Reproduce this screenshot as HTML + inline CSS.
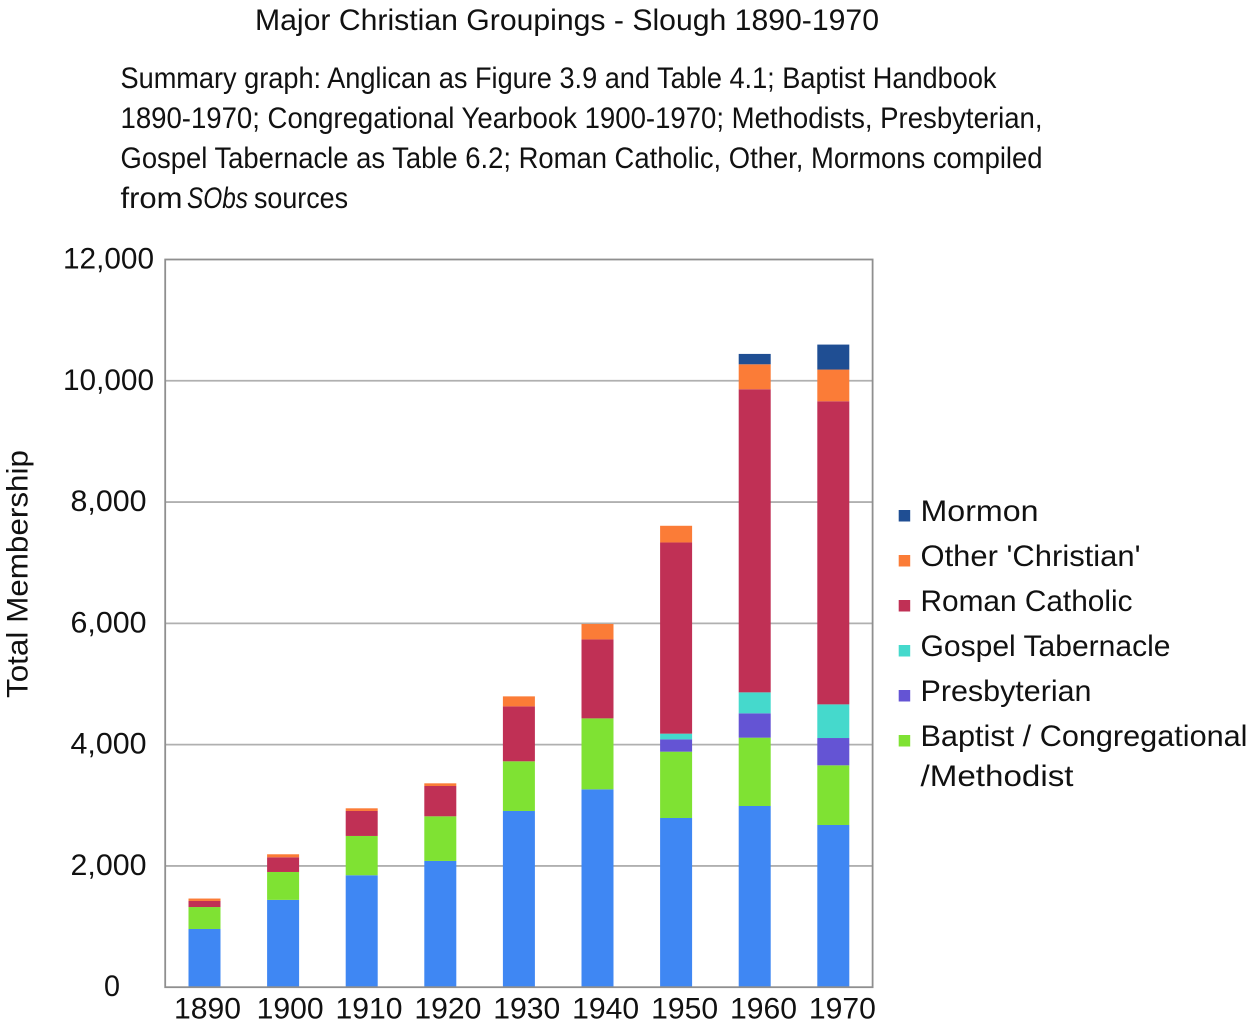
<!DOCTYPE html>
<html lang="en">
<head>
<meta charset="utf-8">
<title>Major Christian Groupings - Slough 1890-1970</title>
<style>
html,body{margin:0;padding:0;background:#fff;}
svg{display:block;font-family:"Liberation Sans",sans-serif;fill:#111;}
</style>
</head>
<body>
<svg id="chart" xmlns="http://www.w3.org/2000/svg" width="1258" height="1029" viewBox="0 0 1258 1029">
  <text x="255" y="30" font-size="29.5" textLength="624" lengthAdjust="spacingAndGlyphs">Major Christian Groupings - Slough 1890-1970</text>
  <g font-size="30">
    <text x="120.5" y="88" textLength="876" lengthAdjust="spacingAndGlyphs">Summary graph: Anglican as Figure 3.9 and Table 4.1; Baptist Handbook</text>
    <text x="120.5" y="128" textLength="922" lengthAdjust="spacingAndGlyphs">1890-1970; Congregational Yearbook 1900-1970; Methodists, Presbyterian,</text>
    <text x="120.5" y="168" textLength="922" lengthAdjust="spacingAndGlyphs">Gospel Tabernacle as Table 6.2; Roman Catholic, Other, Mormons compiled</text>
    <text x="120.5" y="208" textLength="62" lengthAdjust="spacingAndGlyphs">from</text>
    <text x="187" y="208" font-style="italic" textLength="61" lengthAdjust="spacingAndGlyphs">SObs</text>
    <text x="254" y="208" textLength="94" lengthAdjust="spacingAndGlyphs">sources</text>
  </g>
  <text transform="translate(27.5,698) rotate(-90)" font-size="29.5" textLength="248" lengthAdjust="spacingAndGlyphs">Total Membership</text>
  <g id="grid"></g>
  <g id="bars"></g>
  <g id="axes"></g>
  <g id="legend"></g>
</svg>
<script>
const categories = ['1890','1900','1910','1920','1930','1940','1950','1960','1970'];
const anglican = [960,1440,1846,2082,2906,3263,2790,2988,2675];
const baptistCongMeth = [362,460,648,736,819,1170,1094,1127,984];
const presbyterian = [0,0,0,0,0,0,203,401,450];
const gospelTabernacle = [0,0,0,0,0,0,94,346,555];
const romanCatholic = [100,242,412,500,906,1302,3153,4998,4998];
const otherChristian = [40,50,44,44,165,255,275,412,523];
const mormon = [0,0,0,0,0,0,0,171,412];
const yTicks = [0,2000,4000,6000,8000,10000,12000];
const yTickLabels = ['0','2,000','4,000','6,000','8,000','10,000','12,000'];
const yMax = 12000;

const NS = 'http://www.w3.org/2000/svg';
const plotLeft = 165.2, plotRight = 872.6, plotTop = 259.5, plotBottom = 987.2;
const barWidth = 32;
const step = (plotRight - plotLeft) / categories.length;
function xScale(i){ return plotLeft + step * (i + 0.5); }
function yScale(v){ return plotBottom - (v / yMax) * (plotBottom - plotTop); }
function make(tag, attrs, parent){
  const el = document.createElementNS(NS, tag);
  for (const k in attrs) el.setAttribute(k, attrs[k]);
  parent.appendChild(el);
  return el;
}
const gridG = document.getElementById('grid');
const barsG = document.getElementById('bars');
const axesG = document.getElementById('axes');
const legendG = document.getElementById('legend');

yTicks.forEach(function(t, i){
  if (t > 0 && t < yMax) {
    const line = make('line', {x1: plotLeft, x2: plotRight, y1: yScale(t), y2: yScale(t), stroke: '#b0b0b0', 'stroke-width': 1.8}, gridG);
    
    
  }
  const label = make('text', {x: t === 0 ? 112 : 108.5, y: yScale(t) + 9, 'font-size': 29.5, 'text-anchor': 'middle'}, axesG);
  label.textContent = yTickLabels[i];
  label.setAttribute('textLength', yTickLabels[i].length === 6 ? 91 : (yTickLabels[i].length === 5 ? 76 : 16));
  label.setAttribute('lengthAdjust', 'spacingAndGlyphs');
  
  
});

const seriesList = [
  {name:'anglican', values:anglican, color:'#3f87f3'},
  {name:'baptist-congregational-methodist', values:baptistCongMeth, color:'#7fe233'},
  {name:'presbyterian', values:presbyterian, color:'#6454d4'},
  {name:'gospel-tabernacle', values:gospelTabernacle, color:'#45d9cc'},
  {name:'roman-catholic', values:romanCatholic, color:'#c03055'},
  {name:'other-christian', values:otherChristian, color:'#fb7c37'},
  {name:'mormon', values:mormon, color:'#1f4e93'}
];
categories.forEach(function(cat, i){
  let total = 0;
  seriesList.forEach(function(s){
    const v = s.values[i];
    if (v > 0) {
      const top = yScale(total + v), bottom = yScale(total);
      const r = make('rect', {x: xScale(i) - barWidth / 2, y: top, width: barWidth, height: bottom - top, fill: s.color}, barsG);
      
      
    }
    total += v;
  });
  const label = make('text', {x: xScale(i) + (i === 0 ? 3 : 6.7 + 0.3 * i), y: 1018.5, 'font-size': 29.5, 'text-anchor': 'middle', textLength: 67, lengthAdjust: 'spacingAndGlyphs'}, axesG);
  label.textContent = cat;
  
  
});

const frame = make('rect', {x: plotLeft, y: plotTop, width: plotRight - plotLeft, height: plotBottom - plotTop, fill: 'none', stroke: '#8f8f8f', 'stroke-width': 1.8}, axesG);



const legendEntries = [
  {label:'Mormon', color:'#1f4e93', w:118},
  {label:"Other 'Christian'", color:'#fb7c37', w:220},
  {label:'Roman Catholic', color:'#c03055', w:212},
  {label:'Gospel Tabernacle', color:'#45d9cc', w:250},
  {label:'Presbyterian', color:'#6454d4', w:171},
  {label:'Baptist / Congregational', color:'#7fe233', w:327}
];
legendEntries.forEach(function(e, i){
  const top = 510 + i * 45;
  const sw = make('rect', {x: 898.7, y: top, width: 11.5, height: 11.5, fill: e.color}, legendG);
  
  
  const t = make('text', {x: 920.5, y: top + 11, 'font-size': 29.5, textLength: e.w, lengthAdjust: 'spacingAndGlyphs'}, legendG);
  t.textContent = e.label;
  
  
});
const wrapLine = make('text', {x: 920.5, y: 786, 'font-size': 29.5, textLength: 153, lengthAdjust: 'spacingAndGlyphs'}, legendG);
wrapLine.textContent = '/Methodist';


</script>
</body>
</html>
